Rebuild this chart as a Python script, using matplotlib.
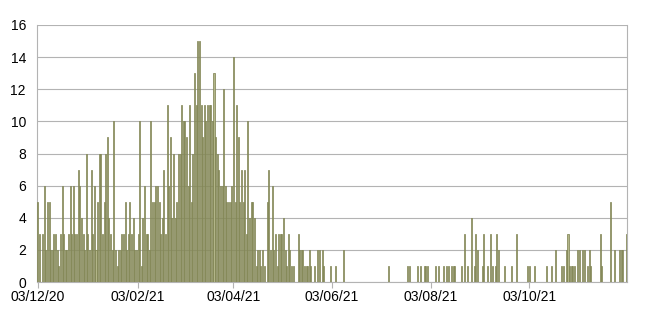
import matplotlib
matplotlib.use("Agg")
import matplotlib.pyplot as plt
import matplotlib.dates as mdates
import numpy as np
import datetime as dt

plt.rcParams['font.family'] = ['Liberation Sans', 'DejaVu Sans']

start_date = dt.date(2020, 12, 3)

dec_2020 = [5,3,0,3,6,2,5,5,2,2,3,3,2,1,3,6,3,2,2,3,6,3,6,3,3,7,6,4,3]
jan_2021 = [2,8,3,2,7,3,6,2,5,8,8,3,5,8,9,4,3,2,10,2,1,2,2,3,3,5,2,3,5,3,4]
feb_2021 = [2,2,3,10,1,4,6,3,3,2,10,5,5,6,6,5,3,4,7,3,11,6,9,4,8,4,5,8]
mar_2021 = [8,11,10,10,9,6,11,5,8,13,11,15,15,11,9,11,10,11,11,11,10,13,9,8,7,6,6,12,6,5,5]
apr_2021 = [5,6,14,5,11,9,5,7,5,7,3,10,4,5,5,4,1,2,2,1,2,1,0,5,7,2,6,2,3,1]
may_2021 = [3,3,3,4,2,1,3,2,1,1,0,0,3,2,2,2,1,1,1,2,1,0,1,0,2,2,0,2,1,0,0]
jun_2021 = [0,1,0,0,1,0,0,0,0,2,0,0,0,0,0,0,0,0,0,0,0,0,0,0,0,0,0,0,0,0]
jul_2021 = [0,0,0,0,0,0,0,1,0,0,0,0,0,0,0,0,0,0,0,1,1,0,0,0,0,1,0,1,0,1,1]
aug_2021 = [1,0,0,0,0,1,0,1,0,0,1,0,1,1,0,1,1,1,0,0,0,1,0,3,0,1,0,4,0,1,3]
sep_2021 = [2,0,0,1,3,0,1,0,3,1,0,1,3,2,0,0,0,1,0,0,0,1,0,0,3,0,0,0,0,0]
oct_2021 = [0,1,1,0,0,1,0,0,0,0,0,0,0,1,0,0,1,0,2,0,0,0,1,1,0,2,3,1,1,1,1]
nov_2021 = [0,2,2,0,2,2,0,1,2,1,0,0,0,0,0,3,1,0,0,0,0,5,0,0,2,0,0,2,2,2]
dec_2021 = [0,3]

values = np.array(dec_2020 + jan_2021 + feb_2021 + mar_2021 + apr_2021 + may_2021 +
                  jun_2021 + jul_2021 + aug_2021 + sep_2021 + oct_2021 + nov_2021 + dec_2021)
dates = [start_date + dt.timedelta(days=i) for i in range(len(values))]

tick_dates = [dt.date(2020, 12, 3), dt.date(2021, 2, 3), dt.date(2021, 4, 3),
              dt.date(2021, 6, 3), dt.date(2021, 8, 3), dt.date(2021, 10, 3)]
tick_labels = ["03/12/20", "03/02/21", "03/04/21", "03/06/21", "03/08/21", "03/10/21"]
y_ticks = [0, 2, 4, 6, 8, 10, 12, 14, 16]

fig = plt.figure(figsize=(6.5, 3.19), dpi=100)
ax = fig.add_axes([37/650, (319-282)/319, (627-37)/650, (282-25)/319])

x = mdates.date2num(dates)
nz = values > 0
ax.bar(x[nz], values[nz], width=0.62, color='#b2b588', edgecolor='#7a7e4c',
       linewidth=0.5, zorder=3)

ax.set_xlim(x[0] - 0.5, x[-1] + 0.5)
ax.set_ylim(0, 16)
ax.set_yticks(y_ticks)
ax.set_yticklabels([str(v) for v in y_ticks])
ax.set_xticks(mdates.date2num(tick_dates))
ax.set_xticklabels(tick_labels)

ax.yaxis.grid(True, color='#b3b3b3', linewidth=0.8, zorder=0)
ax.set_axisbelow(True)
ax.spines['top'].set_visible(False)
for s in ['left', 'right', 'bottom']:
    ax.spines[s].set_color('#b3b3b3')
    ax.spines[s].set_linewidth(0.8)

ax.tick_params(axis='y', length=0, pad=8, labelsize=10, colors='#000000')
ax.tick_params(axis='x', length=4, width=0.8, color='#b3b3b3', pad=2,
               labelsize=10, labelcolor='#000000')

fig.savefig("out.png", dpi=100)
